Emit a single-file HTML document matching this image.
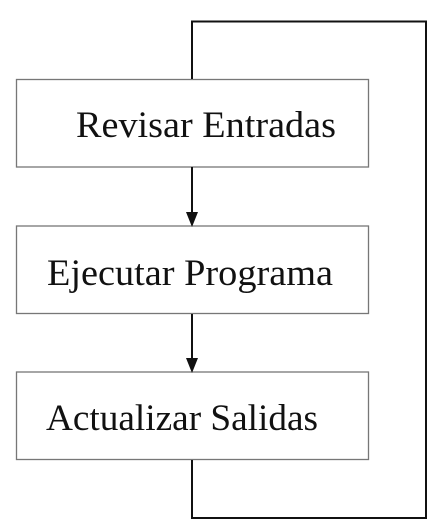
<!DOCTYPE html>
<html><head><meta charset="utf-8"><style>
html,body{margin:0;padding:0;background:#fff;width:447px;height:527px;overflow:hidden}
text{font-family:"Liberation Serif",serif;font-size:37px;fill:#111}
</style></head><body>
<svg width="447" height="527" viewBox="0 0 447 527" xmlns="http://www.w3.org/2000/svg">
<g fill="none" stroke="#777" stroke-width="1.3">
<rect x="16.5" y="79.5" width="352" height="87.5"/>
<rect x="16.5" y="226" width="352" height="87.5"/>
<rect x="16.5" y="372" width="352" height="87.5"/>
</g>
<g fill="none" stroke="#111" stroke-width="2">
<polyline points="192,79 192,21.5 426,21.5 426,518 192,518 192,460"/>
<line x1="192" y1="167" x2="192" y2="214"/>
<line x1="192" y1="314" x2="192" y2="360"/>
</g>
<polygon points="186,212 198,212 192,227" fill="#111"/>
<polygon points="186,358 198,358 192,373" fill="#111"/>
<text x="76" y="137" textLength="260" lengthAdjust="spacingAndGlyphs">Revisar Entradas</text>
<text x="47" y="285" textLength="286" lengthAdjust="spacingAndGlyphs">Ejecutar Programa</text>
<text x="46" y="430" textLength="272" lengthAdjust="spacingAndGlyphs">Actualizar Salidas</text>
</svg>
</body></html>
